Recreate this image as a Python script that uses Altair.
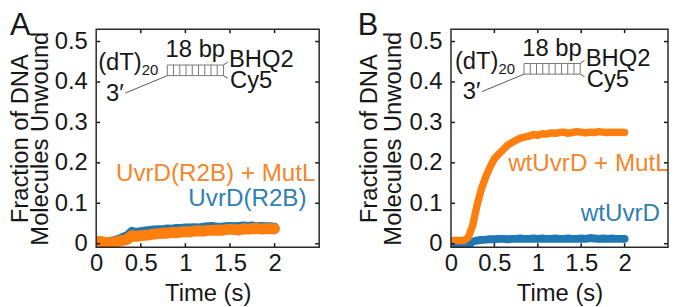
import altair as alt
import pandas as pd

FONT = "Liberation Sans"
INK = "#161616"
ORANGE = "#ff7f0e"
BLUE = "#1f77b4"

times = [0.0,0.05,0.1,0.15,0.2,0.25,0.3,0.35,0.4,0.45,0.5,0.55,0.6,0.65,0.7,0.75,0.8,0.85,0.9,0.95,1.0,
         1.05,1.1,1.15,1.2,1.25,1.3,1.35,1.4,1.45,1.5,1.55,1.6,1.65,1.7,1.75,1.8,1.85,1.9,1.95,2.0]

a_blue = [.009,.008,.007,.007,.009,.012,.017,.022,.032,.029,.031,.033,.034,.035,.036,.036,.038,.037,.039,.039,.040,
          .040,.041,.040,.042,.043,.044,.042,.042,.043,.044,.043,.044,.045,.044,.045,.043,.044,.043,.043,.042]
a_orange = [.006,.005,.003,.003,.004,.006,.008,.011,.020,.018,.020,.021,.022,.024,.025,.026,.026,.028,.027,.029,.030,
            .029,.031,.032,.031,.033,.033,.034,.033,.035,.036,.035,.034,.037,.036,.037,.038,.036,.037,.037,.037]
b_blue = [-.01,-.01,-.01,-.01,-.005,.005,.008,.009,.010,.011,.011,.012,.012,.011,.012,.012,.013,.012,.012,.013,.012,
          .013,.012,.012,.013,.012,.012,.013,.012,.012,.013,.012,.014,.013,.012,.013,.012,.013,.012,.012,.012]
b_orange = [.008,.008,.008,.008,.016,.045,.095,.135,.165,.19,.21,.222,.232,.243,.250,.256,.261,.264,.266,.270,.268,
            .272,.271,.274,.273,.275,.276,.273,.275,.277,.276,.274,.276,.275,.277,.276,.275,.276,.275,.276,.275]

x_ticks = [0.5, 1, 1.5, 2]
y_ticks = [0, 0.1, 0.2, 0.3, 0.4, 0.5]
x_labels = [0, 0.5, 1, 1.5, 2]
rungs = [0.867, 0.937, 1.007, 1.077, 1.147, 1.217, 1.287, 1.357]

H = 220
xs = alt.Scale(domain=[0, 2.5], nice=False, zero=False)
ys = alt.Scale(domain=[-0.0086, 0.5306], nice=False, zero=False)
AX = alt.Axis(values=x_labels, format="~g", domain=False, ticks=False, grid=False,
              labelFont=FONT, labelFontSize=24, labelColor=INK, labelPadding=5,
              labelFlush=False, labelOverlap=False, labelBound=False,
              titleFont=FONT, titleFontSize=24, titleColor=INK, titleFontWeight="normal",
              titlePadding=6)


def y_axis(line_height, title_padding):
    return alt.Axis(values=y_ticks, format="~g", domain=False, ticks=False, grid=False,
                    labelFont=FONT, labelFontSize=24, labelColor=INK, labelPadding=9,
                    labelOverlap=False, labelBound=False,
                    titleFont=FONT, titleFontSize=24, titleColor=INK, titleFontWeight="normal",
                    titlePadding=title_padding, titleLineHeight=line_height)


XT = "Time (s)"
YT = ["Fraction of DNA", "Molecules Unwound"]
X = lambda f="x": alt.X(f"{f}:Q", scale=xs, title=XT, axis=AX)


def panel(letter, letter_x, series, notes, ay, W):
    Y = lambda f="y": alt.Y(f"{f}:Q", scale=ys, title=YT, axis=ay)
    k = 225 / W

    def curve(vals, color, width):
        df = pd.DataFrame({"x": times, "y": vals})
        return alt.Chart(df).mark_line(color=color, strokeWidth=width, strokeCap="round",
                                       strokeJoin="round", clip=True).encode(X(), Y())

    def labels(rows, size=24, color=INK):
        df = pd.DataFrame([[r[0] * k, r[1], r[2]] for r in rows], columns=["x", "y", "t"])
        return alt.Chart(df).mark_text(align="left", baseline="alphabetic", font=FONT, fontSize=size,
                                       color=color).encode(X(), Y(), text="t:N")

    def segments(rows, color, width):
        df = pd.DataFrame([[r[0] * k, r[1], r[2] * k, r[3]] for r in rows],
                          columns=["x", "y", "x2", "y2"])
        return alt.Chart(df).mark_rule(color=color, strokeWidth=width).encode(
            X(), Y(), x2="x2:Q", y2="y2:Q")

    dt, dv = (0.0, 0.0) if letter == "A" else (0.022, 0.0037)
    layers = []
    for vals, color, width in series:
        layers.append(curve(vals, color, width))
    for rows, color in notes:
        layers.append(labels(rows, size=24.4, color=color))
    layers.append(labels([[0.022 + dt, 0.429 + dv, "(dT)"], [0.778 + dt, 0.461 + dv, "18 bp"],
                          [1.489 + dt, 0.436 + dv, "BHQ2"], [1.5 + dt, 0.385 + dv, "Cy5"],
                          [0.111 + dt, 0.353 + dv, "3\u2032"]]))
    layers.append(labels([[0.511 + dt, 0.417 + dv, "20"]], size=15))
    layers.append(labels([[letter_x, 0.5165, letter]], size=31))
    grey = "#777777"
    layers.append(segments([[0.797 + dt, 0.4419 + dv, 1.427 + dt, 0.4419 + dv],
                            [0.797 + dt, 0.4157 + dv, 1.427 + dt, 0.4157 + dv],
                            [0.797 + dt, 0.4419 + dv, 0.797 + dt, 0.4157 + dv],
                            [1.427 + dt, 0.4419 + dv, 1.427 + dt, 0.4157 + dv]]
                           + [[r + dt, 0.4419 + dv, r + dt, 0.4157 + dv] for r in rungs], grey, 1))
    layers.append(segments([[0.797 + dt, 0.4157 + dv, 0.326 + dt, 0.3725 + dv],
                            [1.427 + dt, 0.4419 + dv, 1.475 + dt, 0.4497 + dv],
                            [1.427 + dt, 0.4157 + dv, 1.475 + dt, 0.4091 + dv]], "#444444", 0.9))
    tk = 4
    tx = pd.DataFrame({"x": x_ticks})
    ty = pd.DataFrame({"y": y_ticks})
    layers += [
        alt.Chart(tx).mark_rule(color=INK, strokeWidth=1.5).encode(X(), y=alt.value(0), y2=alt.value(tk)),
        alt.Chart(tx).mark_rule(color=INK, strokeWidth=1.5).encode(X(), y=alt.value(H - tk), y2=alt.value(H)),
        alt.Chart(ty).mark_rule(color=INK, strokeWidth=1.5).encode(Y(), x=alt.value(0), x2=alt.value(tk)),
        alt.Chart(ty).mark_rule(color=INK, strokeWidth=1.5).encode(Y(), x=alt.value(W - tk), x2=alt.value(W)),
        alt.Chart(pd.DataFrame({"k": [0]})).mark_rect(fill=None, stroke="#2a2a2a", strokeWidth=1.5).encode(
            x=alt.value(0), x2=alt.value(W), y=alt.value(0), y2=alt.value(H)),
    ]
    return alt.layer(*layers).properties(width=W, height=H)


left = panel("A", -0.967, [(a_blue, BLUE, 8), (a_orange, ORANGE, 11)],
             [([[0.222, 0.154, "UvrD(R2B) + MutL"]], "#f5862a"),
              ([[1.033, 0.093, "UvrD(R2B)"]], "#2f7fb5")], y_axis(20, 2), 225)
right = panel("B", -1.044, [(b_blue, BLUE, 8), (b_orange, ORANGE, 7.5)],
              [([[0.641, 0.179, "wtUvrD + MutL"]], "#f5862a"),
               ([[1.456, 0.056, "wtUvrD"]], "#2f7fb5")], y_axis(24, 4), 219)

chart = alt.hconcat(left, right, spacing=37).properties(padding=0, background="white").configure_view(stroke=None)
chart.save("out.html", embed_options={"renderer": "svg", "actions": False})
